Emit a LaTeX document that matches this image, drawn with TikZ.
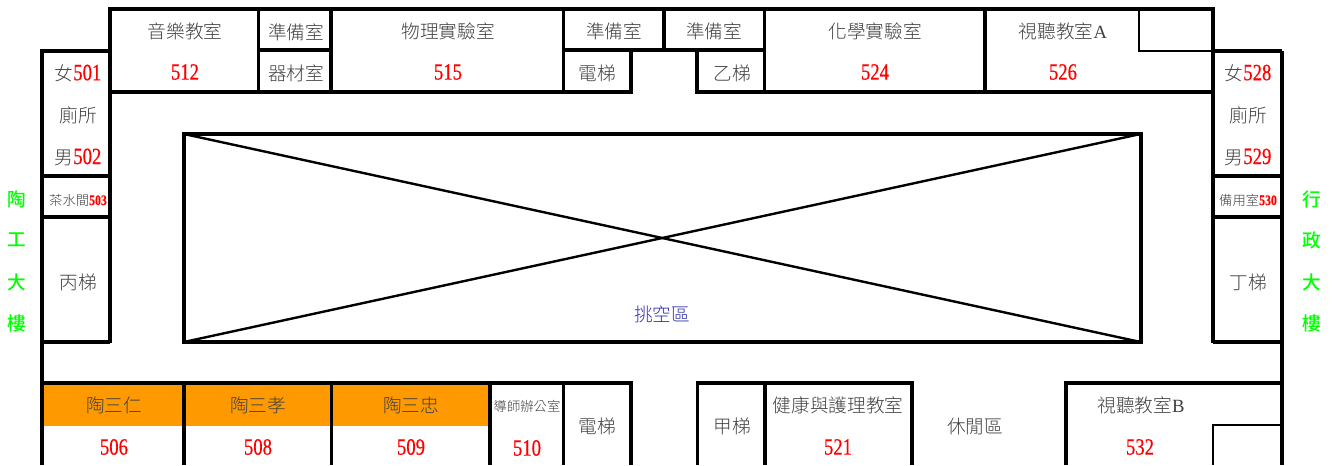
\documentclass[tikz,border=0pt]{standalone}
\usepackage{fontspec}
\setmainfont{Liberation Serif}
\newfontfamily\cjkfont{Noto Sans CJK TC Light}
\newfontfamily\sidefont{Noto Sans CJK TC Medium}
\newfontfamily\numfont[FakeStretch=0.8,FakeBold=0.5]{Liberation Serif}
\definecolor{labelgray}{HTML}{404040}
\definecolor{classorange}{HTML}{FF9900}
\definecolor{voidblue}{HTML}{3333AA}
\definecolor{sidegreen}{HTML}{00FF00}
\newcommand{\roomno}[1]{{\color{red}\numfont\fontsize{17.5pt}{18pt}\selectfont #1}}
\newcommand{\smallno}[1]{{\color{red}\numfont\bfseries\fontsize{11pt}{12pt}\selectfont #1}}
\tikzset{
  wall/.style={line width=2.4pt},
  thinwall/.style={line width=1.8pt},
  thickwall/.style={line width=3pt},
  room/.style={text=labelgray,font=\cjkfont\fontsize{14pt}{16pt}\selectfont,inner sep=0pt},
  smallroom/.style={text=labelgray,font=\cjkfont\fontsize{10pt}{12pt}\selectfont,inner sep=0pt},
  side/.style={text=sidegreen,font=\sidefont\fontsize{14pt}{16pt}\selectfont,inner sep=0pt},
}
\begin{document}
\begin{tikzpicture}[x=0.75pt,y=-0.75pt]
  \useasboundingbox (0,0) rectangle (1338,465);

  \fill[classorange] (42,384) rectangle (490,426); % class rooms

  \draw[thickwall] (110,52)--(110,9)--(1213,9)--(1213,52); % top block
  \draw[thickwall] (42,465)--(42,51)--(110,51); % left wing
  \draw[thickwall] (1213,51)--(1282,51);
  \draw[thickwall] (1282,51)--(1282,465); % right wing
  \draw[wall] (110,52)--(110,343);
  \draw[wall] (1213,52)--(1213,343);

  \draw[wall] (110,92)--(631,92)--(631,50); % top row
  \draw[wall] (697,50)--(697,92)--(1213,92);
  \draw[wall] (258.5,9)--(258.5,92);
  \draw[wall] (331,9)--(331,92);
  \draw[wall] (258.5,50)--(331,50);
  \draw[wall] (563.5,9)--(563.5,92);
  \draw[wall] (563.5,50)--(764.5,50);
  \draw[wall] (664,9)--(664,50);
  \draw[wall] (764.5,9)--(764.5,92);
  \draw[wall] (985,9)--(985,92);
  \draw[thinwall] (1139,9)--(1139,51)--(1213,51);

  \draw[wall] (42,176)--(110,176); % left wing rooms
  \draw[wall] (42,217)--(110,217);
  \draw[wall] (42,342)--(110,342);
  \draw[wall] (1213,176)--(1282,176); % right wing rooms
  \draw[wall] (1213,217)--(1282,217);
  \draw[wall] (1213,342)--(1282,342);

  \draw[thickwall] (184,134) rectangle (1140.5,342); % void
  \draw[line width=1.8pt] (184,134)--(1140.5,342);
  \draw[line width=1.8pt] (184,342)--(1140.5,134);

  \draw[wall] (42,383)--(631,383)--(631,465); % bottom row
  \draw[wall] (184,383)--(184,465);
  \draw[wall] (331.5,383)--(331.5,465);
  \draw[wall] (490,383)--(490,465);
  \draw[wall] (563.5,383)--(563.5,465);
  \draw[wall] (697.5,465)--(697.5,383)--(912,383)--(912,465);
  \draw[wall] (765,383)--(765,465);
  \draw[wall] (1066,465)--(1066,383)--(1282,383);
  \draw[thinwall] (1213,465)--(1213,425)--(1282,425);

  \node[room] (music) at (185,31) {音樂教室};
  \node[room] (music no) at (185,72) {\roomno{512}};
  \node[room] (prep a) at (296,32) {準備室};
  \node[room] (equip) at (296,73) {器材室};
  \node[room] (physics) at (448,31) {物理實驗室};
  \node[room] (physics no) at (448,72) {\roomno{515}};
  \node[room] (prep b) at (614,31) {準備室};
  \node[room] (prep c) at (714,31) {準備室};
  \node[room] (lift top) at (597,73) {電梯};
  \node[room] (stair b) at (732,73) {乙梯};
  \node[room] (chem) at (875,31) {化學實驗室};
  \node[room] (chem no) at (875,72) {\roomno{524}};
  \node[room] (av a) at (1063,31) {視聽教室{\rmfamily A}};
  \node[room] (av a no) at (1063,72) {\roomno{526}};

  \node[room] (wc f left) at (78,73) {女\roomno{501}};
  \node[room] (wc left) at (78,115) {廁所};
  \node[room] (wc m left) at (78,157) {男\roomno{502}};
  \node[smallroom] (tea) at (78,200) {茶水間\smallno{503}};
  \node[room] (stair c) at (78,282) {丙梯};
  \node[room] (wc f right) at (1248,73) {女\roomno{528}};
  \node[room] (wc right) at (1248,115) {廁所};
  \node[room] (wc m right) at (1248,157) {男\roomno{529}};
  \node[smallroom] (spare) at (1248,200) {備用室\smallno{530}};
  \node[room] (stair d) at (1248,282) {丁梯};

  \node[room,text=voidblue] (void) at (662,314) {挑空區};

  \node[room] (class a) at (114,405) {陶三仁};
  \node[room] (class a no) at (114,447) {\roomno{506}};
  \node[room] (class b) at (258,405) {陶三孝};
  \node[room] (class b no) at (258,447) {\roomno{508}};
  \node[room] (class c) at (411,405) {陶三忠};
  \node[room] (class c no) at (411,447) {\roomno{509}};
  \node[smallroom] (tutor) at (527,406) {導師辦公室};
  \node[room] (tutor no) at (527,448) {\roomno{510}};
  \node[room] (lift bottom) at (597,426) {電梯};
  \node[room] (stair a) at (732,426) {甲梯};
  \node[room] (health) at (838,405) {健康與護理教室};
  \node[room] (health no) at (838,447) {\roomno{521}};
  \node[room] (lounge) at (975,426) {休閒區};
  \node[room] (av b) at (1141,405) {視聽教室{\rmfamily B}};
  \node[room] (av b no) at (1140,447) {\roomno{532}};

  \node[side] (west a) at (17,199) {陶};
  \node[side] (west b) at (17,240) {工};
  \node[side] (west c) at (17,282) {大};
  \node[side] (west d) at (17,323) {樓};
  \node[side] (east a) at (1312,199) {行};
  \node[side] (east b) at (1312,240) {政};
  \node[side] (east c) at (1312,282) {大};
  \node[side] (east d) at (1312,323) {樓};
\end{tikzpicture}
\end{document}
